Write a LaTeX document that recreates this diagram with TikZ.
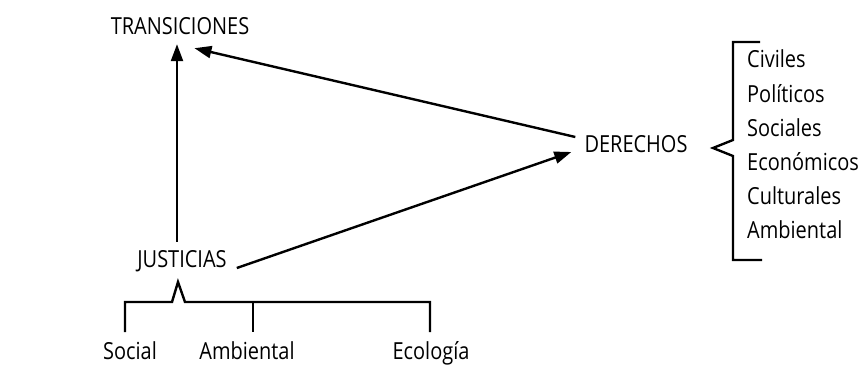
\documentclass[tikz,border=0pt]{standalone}
\usepackage{fontspec}
\setmainfont{Open Sans}[FakeStretch=0.85]
\usetikzlibrary{arrows.meta}

\begin{document}
\begin{tikzpicture}[
  x=1pt, y=-1pt,
  line width=2.4pt,
  every node/.style={inner sep=0pt,font=\fontsize{23.5}{26}\selectfont,text height=16pt,text depth=4pt},
  flecha/.style={-{Triangle[length=17pt,width=12pt]}},
  item/.style={anchor=west}
]
  \useasboundingbox (0,0) rectangle (862,371);

  % main nodes
  \node (trans) at (180,29) {TRANSICIONES};
  \node (just) at (182,262) {JUSTICIAS};
  \node (der) at (636,147) {DERECHOS};

  % arrows
  \draw[flecha] ([xshift=-5pt,yshift=9pt]just.north) -- ([xshift=-3pt,yshift=-4pt]trans.south);
  \draw[flecha] ([xshift=-8pt,yshift=10pt]der.west) -- ([xshift=-56pt,yshift=-8pt]trans.south east);
  \draw[flecha] ([xshift=9pt,yshift=-6pt]just.east) -- ([xshift=-12pt,yshift=-5pt]der.west);

  % kinds of justice
  \draw (125,332) -- (125,302) -- (172,302) -- (178,282) -- (185,302) -- (430,302) -- (430,332);
  \draw (253,302) -- (253,332);
  \node (social) at (130,353) {Social};
  \node (ambj) at (247,353) {Ambiental};
  \node (eco) at (431,353) {Ecología};

  % kinds of rights
  \draw (760,42) -- (733,42) -- (733,140) -- (713,148) -- (733,156) -- (733,260) -- (762,260);
  \foreach \t [count=\i from 0] in {Civiles,Políticos,Sociales,Económicos,Culturales,Ambiental}
    \node[item] (r\i) at (746,62+34.2*\i) {\t};
\end{tikzpicture}
\end{document}
